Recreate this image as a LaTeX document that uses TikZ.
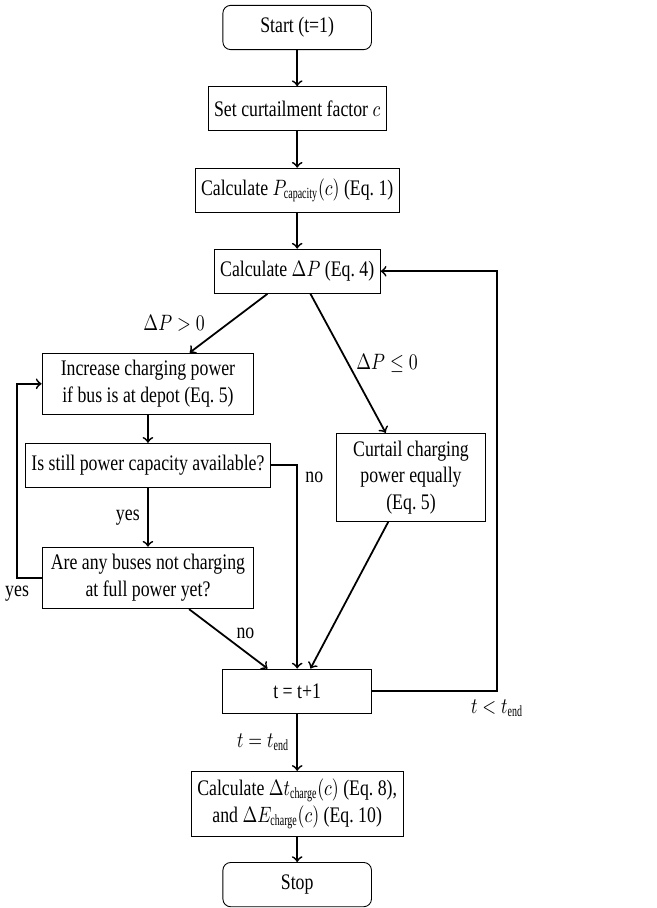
\documentclass[tikz,border=0pt]{standalone}
\usepackage{fontspec}
\setmainfont{Liberation Serif}[FakeStretch=0.8]
\usepackage{amsmath}
\usepackage{graphicx}
\usepackage{tikz}
\usetikzlibrary{calc}
\newcommand{\nm}[1]{\scalebox{0.8}[1]{$#1$}}
\tikzset{
	procbox/.style={draw, line width=0.4pt, minimum height=0.7cm, minimum width=2.35cm, align=center, inner xsep=2.7pt, inner ysep=3.3pt},
	termbox/.style={procbox, rounded corners=3.5pt},
	flow/.style={->, thick}
}

\begin{document}
\begin{tikzpicture}
		%%%%% START %%%%%
		
		\useasboundingbox (0, 0) rectangle (10.39, -14.36);
		
		\node[termbox] (start) at (4.70, -0.435) {Start (t=1)};
		\node[procbox] (setc) at (4.70, -1.72) {Set curtailment factor \nm{c}};
		\node[procbox] (pcap) at (4.70, -3.01) {Calculate \nm{P_\text{capacity}(c)} (Eq.~1)};
		\node[procbox] (dp) at (4.70, -4.29) {Calculate \nm{\Delta P} (Eq.~4)};
		
		\node[procbox, minimum width=3.35cm] (incr) at (2.34, -6.07) {Increase charging power\\if bus is at depot (Eq.~5)};
		\node[procbox] (still) at (2.34, -7.36) {Is still power capacity available?};
		\node[procbox, minimum width=3.35cm] (any) at (2.34, -9.14) {Are any buses not charging\\at full power yet?};
		\node[procbox] (curt) at (6.50, -7.55) {Curtail charging\\power equally\\(Eq.~5)};
		
		\node[procbox] (tinc) at (4.70, -10.93) {t = t+1};
		\node[procbox] (calc) at (4.70, -12.71) {Calculate \nm{\Delta t_\text{charge}(c)} (Eq.~8),\\and \nm{\Delta E_\text{charge}(c)} (Eq.~10)};
		\node[termbox] (stop) at (4.70, -13.99) {Stop};
		
		\coordinate (loop) at (7.86, -10.93);
		\coordinate (back) at (0.27, -9.14);
		
		%%%%% ARROWS %%%%%
		
		\draw[flow] (start) -- (setc);
		\draw[flow] (setc) -- (pcap);
		\draw[flow] (pcap) -- (dp);
		
		\draw[flow] ([xshift=-0.47cm]dp.south) -- node[midway, left=7pt] {\nm{\Delta P > 0}} ([xshift=0.66cm]incr.north);
		\draw[flow] ([xshift=0.21cm]dp.south) -- node[midway, right] {\nm{\Delta P \leq 0}} ([xshift=-0.40cm]curt.north);
		
		\draw[flow] (incr) -- (still);
		\draw[flow] (still) -- node[midway, left] {yes} (any);
		\draw[flow] (still.east) -| node[pos=0.53, right] {no} (tinc.north);
		\draw[flow] (any.west) -- (back) node[below] {yes} |- (incr.west);
		\draw[flow] ([xshift=0.65cm]any.south) -- node[midway, above right, yshift=-3.5pt] {no} ([xshift=-0.47cm]tinc.north);
		\draw[flow] ([xshift=-0.36cm]curt.south) -- ([xshift=0.21cm]tinc.north);
		
		\draw[flow] (tinc.east) -- (loop) node[below] {\nm{t < t_\text{end}}} |- (dp.east);
		\draw[flow] (tinc) -- node[midway, left] {\nm{t = t_\text{end}}} (calc);
		\draw[flow] (calc) -- (stop);
		
		%%%%% END %%%%%
	\end{tikzpicture}
\end{document}
